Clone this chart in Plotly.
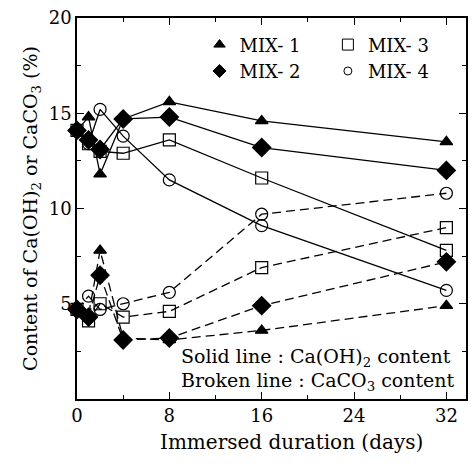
import plotly.graph_objects as go

days = [0, 1, 2, 4, 8, 16, 32]
names = ["MIX- 1", "MIX- 2", "MIX- 3", "MIX- 4"]
symbols = ["triangle-up", "diamond", "square-open", "circle-open"]
sizes = [11, 14, 12, 12]

caoh2 = {
    "MIX- 1": [14.1, 14.8, 11.8, 14.7, 15.6, 14.6, 13.5],
    "MIX- 2": [14.1, 13.6, 13.1, 14.7, 14.8, 13.2, 12.0],
    "MIX- 3": [14.1, 13.4, 13.0, 12.9, 13.6, 11.6, 7.8],
    "MIX- 4": [14.1, 13.4, 15.2, 13.8, 11.5, 9.1, 5.7],
}
caco3 = {
    "MIX- 1": [4.7, 4.4, 7.8, 3.2, 3.1, 3.6, 4.9],
    "MIX- 2": [4.7, 4.3, 6.5, 3.1, 3.2, 4.9, 7.2],
    "MIX- 3": [4.7, 4.1, 5.0, 4.3, 4.6, 6.9, 9.0],
    "MIX- 4": [4.7, 5.4, 4.7, 5.0, 5.6, 9.7, 10.8],
}

FONT = "DejaVu Serif"
fig = go.Figure()

for n, s, sz in zip(names, symbols, sizes):
    mk = dict(symbol=s, size=sz, color="black", line=dict(color="black", width=1.2))
    fig.add_trace(go.Scatter(x=days, y=caco3[n], mode="lines+markers",
                             line=dict(color="black", width=1.3, dash="9px,5px"),
                             marker=mk, showlegend=False, cliponaxis=False))
    fig.add_trace(go.Scatter(x=days, y=caoh2[n], mode="lines+markers",
                             line=dict(color="black", width=1.3),
                             marker=mk, showlegend=False, cliponaxis=False))

# legend-only entries (marker symbols)
for i, (n, s, sz) in enumerate(zip(names, symbols, sizes)):
    fig.add_trace(go.Scatter(x=[None], y=[None], mode="markers", name=n,
                             marker=dict(symbol=s, size=sz - 1 if i % 2 == 0 else sz - 4,
                                         color="black", line=dict(color="black", width=1)),
                             legend="legend" if i < 2 else "legend2"))

axis_common = dict(showline=True, linecolor="black", linewidth=1.5, mirror="ticks",
                   ticks="inside", ticklen=7, tickcolor="black", tickwidth=1.3,
                   showgrid=False, zeroline=False,
                   tickfont=dict(family=FONT, size=18, color="black"))

fig.update_xaxes(range=[0, 33.7], tickvals=[0, 8, 16, 24, 32],
                 minor=dict(tickvals=[4, 12, 20, 28], ticks="inside", ticklen=4,
                            tickcolor="black", tickwidth=1.2),
                 **axis_common)
fig.update_yaxes(range=[0, 20], tickvals=[5, 10, 15, 20],
                 minor=dict(tickvals=[2.5, 7.5, 12.5, 17.5], ticks="inside", ticklen=4,
                            tickcolor="black", tickwidth=1.2),
                 title=dict(text="Content of Ca(OH)<sub>2</sub> or CaCO<sub>3</sub> (%)",
                            standoff=6, font=dict(family=FONT, size=19, color="black")),
                 **axis_common)

leg_font = dict(family=FONT, size=18, color="black")
txt_font = dict(family=FONT, size=19, color="black")
fig.update_layout(
    width=475, height=468,
    margin=dict(l=77, r=7, t=11, b=69),
    paper_bgcolor="white", plot_bgcolor="white",
    legend=dict(x=0.315, y=0.978, xanchor="left", yanchor="top", font=leg_font,
                bgcolor="rgba(0,0,0,0)", tracegroupgap=0, itemwidth=30),
    legend2=dict(x=0.645, y=0.978, xanchor="left", yanchor="top", font=leg_font,
                 bgcolor="rgba(0,0,0,0)", tracegroupgap=0, itemwidth=30),
    annotations=[
        dict(text="Solid line : Ca(OH)<sub>2</sub> content", xref="paper", yref="paper",
             x=0.262, y=0.108, xanchor="left", yanchor="middle", showarrow=False,
             font=txt_font),
        dict(text="Broken line : CaCO<sub>3</sub> content", xref="paper", yref="paper",
             x=0.262, y=0.046, xanchor="left", yanchor="middle", showarrow=False,
             font=txt_font),
        dict(text="Immersed duration (days)", xref="paper", yref="paper",
             x=0.552, y=-0.112, xanchor="center", yanchor="middle", showarrow=False,
             font=dict(family=FONT, size=20, color="black")),
    ],
)

fig.write_html("out.html")
